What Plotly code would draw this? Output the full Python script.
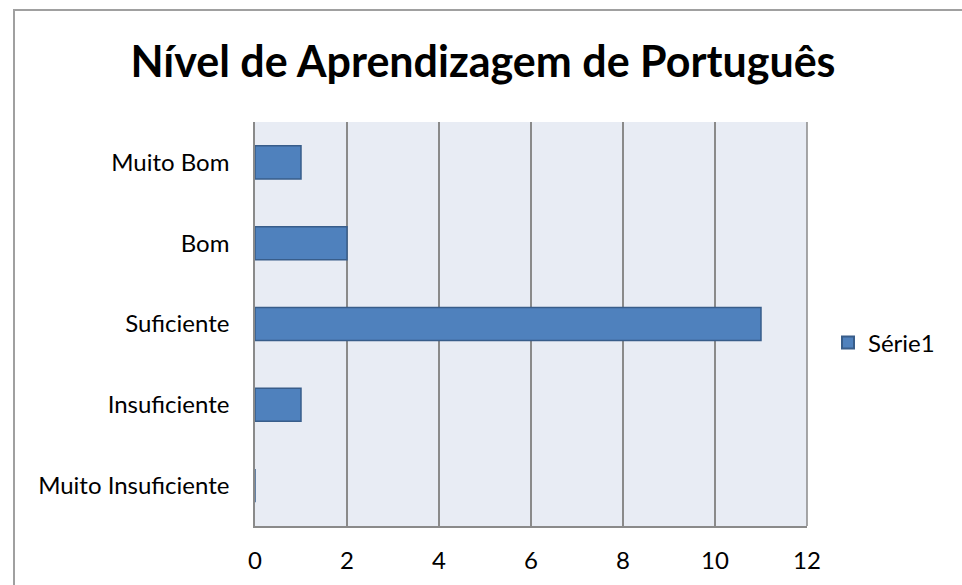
import plotly.graph_objects as go

categories = ["Muito Insuficiente", "Insuficiente", "Suficiente", "Bom", "Muito Bom"]
values = [0, 1, 11, 2, 1]
series_name = "Série1"
title_text = "Nível de Aprendizagem de Português"
x_ticks = [0, 2, 4, 6, 8, 10, 12]

W, H = 962, 585
L, R, T, B = 255, 807, 122, 526
pw, ph = R - L, B - T

FONT = "Lato"

fig = go.Figure()
fig.add_trace(go.Bar(
    y=categories, x=values, orientation="h", name=series_name,
    marker=dict(color="#4F81BD", line=dict(color="#385D8A", width=1.5)),
    showlegend=True,
))

fig.update_layout(
    width=W, height=H,
    margin=dict(l=L, r=W - R, t=T, b=H - B, pad=0),
    paper_bgcolor="white", plot_bgcolor="#E8ECF4",
    font=dict(family=FONT, size=24, color="#000000"),
    title=dict(text="<b>" + title_text + "</b>", x=(133 + 833) / 2 / W, xanchor="center",
               y=1 - 62 / H, yanchor="middle", font=dict(size=43, family=FONT)),
    bargap=0.59,
    showlegend=True,
    legend=dict(x=(828 - L) / pw, xanchor="left", y=(B - 343) / ph, yanchor="middle",
                bgcolor="rgba(0,0,0,0)", font=dict(size=24), itemwidth=30,
                itemsizing="constant"),
    xaxis=dict(range=[0, 12], tickvals=x_ticks, showgrid=True, gridcolor="#8A8A8A", gridwidth=1.5,
               zeroline=False, showline=True, linecolor="#8A8A8A", linewidth=1.5, mirror=False,
               ticks="", ticklabelstandoff=12, tickfont=dict(size=24), fixedrange=True),
    yaxis=dict(categoryorder="array", categoryarray=categories, showgrid=False,
               zeroline=False, showline=True, linecolor="#8A8A8A", linewidth=1.5,
               ticks="", ticklabelstandoff=19, tickfont=dict(size=24), fixedrange=True),
    shapes=[
        dict(type="rect", xref="paper", yref="paper",
             x0=(14 - L) / pw, x1=(1000 - L) / pw,
             y0=(B - 620) / ph, y1=(B - 10) / ph,
             line=dict(color="#A0A0A0", width=2), fillcolor="rgba(0,0,0,0)", layer="below"),
        dict(type="line", xref="paper", yref="paper", x0=1, x1=1, y0=0, y1=1,
             line=dict(color="#8A8A8A", width=1.5)),
    ],
)

fig.write_html("out.html", config={"displayModeBar": False},
               post_script="document.body.style.margin='0';")
